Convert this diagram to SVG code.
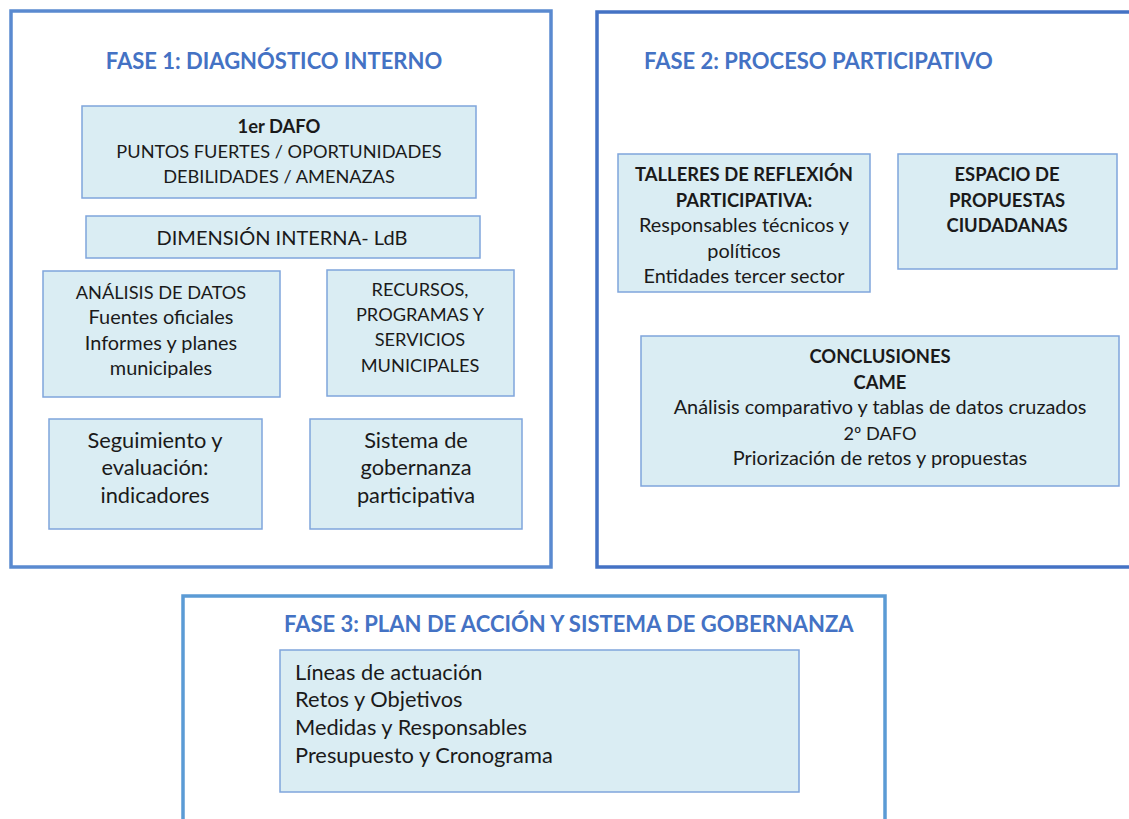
<svg xmlns="http://www.w3.org/2000/svg" width="1129" height="819" viewBox="0 0 1129 819">
<style>
.frame{fill:#fff;stroke-width:3.5}
.f1{stroke:#5a8ad0}
.f2{stroke:#4472c4}
.f3{stroke:#5b9bd5}
.title{font-family:Lato,"Open Sans",sans-serif;font-weight:bold;font-size:22px;fill:#4472c4}
.box{fill:#daedf3;stroke:#7fa5dc;stroke-width:1.5}
text{font-family:Lato,"Open Sans",sans-serif;font-size:18.2px;fill:#1a1a1a}
.c{text-anchor:middle}
.b{font-weight:bold;font-size:18.4px}
.l{font-size:19.9px}
.dim{font-size:20px}
.big{font-size:21.8px}
</style>
<rect width="1129" height="819" fill="#fff"/>
<g id="fase1">
<rect class="frame f1" x="11" y="11" width="540" height="556"/>
<text class="title" x="274" y="69" text-anchor="middle">FASE 1: DIAGNÓSTICO INTERNO</text>
</g>
<g id="fase2">
<rect class="frame f2" x="597" y="12" width="540" height="555"/>
<text class="title" x="644" y="69">FASE 2: PROCESO PARTICIPATIVO</text>
</g>
<g id="fase3">
<rect class="frame f3" x="183" y="596" width="702" height="240"/>
<text class="title" x="284" y="632">FASE 3: PLAN DE ACCIÓN Y SISTEMA DE GOBERNANZA</text>
</g>
<g id="dafo1">
<rect class="box" x="82" y="106" width="394" height="92"/>
<text class="c b" x="279" y="133">1er DAFO</text>
<text class="c" x="279" y="158">PUNTOS FUERTES / OPORTUNIDADES</text>
<text class="c" x="279" y="183">DEBILIDADES / AMENAZAS</text>
</g>
<g id="dimension">
<rect class="box" x="86" y="216" width="394" height="42"/>
<text class="c dim" x="282" y="245">DIMENSIÓN INTERNA- LdB</text>
</g>
<g id="analisis">
<rect class="box" x="43" y="271" width="237" height="126"/>
<text class="c" x="161" y="299">ANÁLISIS DE DATOS</text>
<text class="c l" x="161" y="324">Fuentes oficiales</text>
<text class="c l" x="161" y="350">Informes y planes</text>
<text class="c l" x="161" y="375">municipales</text>
</g>
<g id="recursos">
<rect class="box" x="327" y="270" width="187" height="126"/>
<text class="c" x="420" y="296">RECURSOS,</text>
<text class="c" x="420" y="321">PROGRAMAS Y</text>
<text class="c" x="420" y="346">SERVICIOS</text>
<text class="c" x="420" y="372">MUNICIPALES</text>
</g>
<g id="seguimiento">
<rect class="box" x="49" y="419" width="213" height="110"/>
<text class="c big" x="155" y="448">Seguimiento y</text>
<text class="c big" x="155" y="475">evaluación:</text>
<text class="c big" x="155" y="503">indicadores</text>
</g>
<g id="sistema">
<rect class="box" x="310" y="419" width="212" height="110"/>
<text class="c big" x="416" y="448">Sistema de</text>
<text class="c big" x="416" y="475">gobernanza</text>
<text class="c big" x="416" y="503">participativa</text>
</g>
<g id="talleres">
<rect class="box" x="618" y="154" width="252" height="138"/>
<text class="c b" x="744" y="181">TALLERES DE REFLEXIÓN</text>
<text class="c b" x="744" y="207">PARTICIPATIVA:</text>
<text class="c l" x="744" y="232">Responsables técnicos y</text>
<text class="c l" x="744" y="258">políticos</text>
<text class="c l" x="744" y="283">Entidades tercer sector</text>
</g>
<g id="espacio">
<rect class="box" x="898" y="154" width="219" height="115"/>
<text class="c b" x="1007" y="181">ESPACIO DE</text>
<text class="c b" x="1007" y="207">PROPUESTAS</text>
<text class="c b" x="1007" y="232">CIUDADANAS</text>
</g>
<g id="conclusiones">
<rect class="box" x="641" y="336" width="478" height="150"/>
<text class="c b" x="880" y="363">CONCLUSIONES</text>
<text class="c b" x="880" y="389">CAME</text>
<text class="c l" x="880" y="414">Análisis comparativo y tablas de datos cruzados</text>
<text class="c" x="880" y="440">2º DAFO</text>
<text class="c l" x="880" y="465">Priorización de retos y propuestas</text>
</g>
<g id="plan">
<rect class="box" x="280" y="650" width="519" height="142"/>
<text class="big" x="295" y="680">Líneas de actuación</text>
<text class="big" x="295" y="707">Retos y Objetivos</text>
<text class="big" x="295" y="735">Medidas y Responsables</text>
<text class="big" x="295" y="763">Presupuesto y Cronograma</text>
</g>
<g id="connectors"></g>
</svg>
